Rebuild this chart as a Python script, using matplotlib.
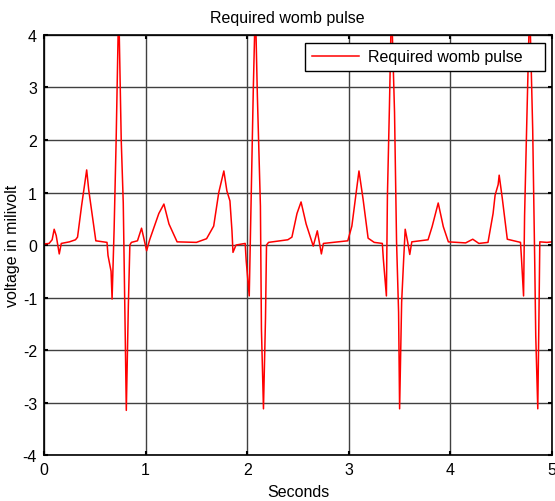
import matplotlib
matplotlib.use("Agg")
import matplotlib.pyplot as plt

plt.rcParams["font.family"] = ["Liberation Sans", "DejaVu Sans"]
plt.rcParams["axes.unicode_minus"] = False

# time (s) and voltage (mV)
t = [0.00, 0.05, 0.08, 0.10, 0.12, 0.15, 0.17, 0.25, 0.31, 0.33, 0.37, 0.42, 0.44, 0.51,
     0.62, 0.63, 0.66, 0.67, 0.69, 0.71, 0.735, 0.76, 0.78, 0.80, 0.81, 0.83, 0.845, 0.86,
     0.92, 0.96, 0.98, 1.01, 1.04, 1.13, 1.18, 1.23, 1.31, 1.50, 1.60, 1.67, 1.72, 1.77,
     1.80, 1.83, 1.85, 1.86, 1.89, 1.98, 1.99, 2.02, 2.04, 2.06, 2.08, 2.10, 2.13, 2.14,
     2.16, 2.18, 2.19, 2.21, 2.40, 2.44, 2.49, 2.53, 2.58, 2.65, 2.69, 2.73, 2.75, 2.99,
     3.03, 3.10, 3.14, 3.19, 3.25, 3.33, 3.34, 3.37, 3.38, 3.40, 3.42, 3.45, 3.47, 3.49,
     3.50, 3.52, 3.54, 3.555, 3.58, 3.60, 3.62, 3.78, 3.82, 3.88, 3.93, 3.98, 4.15, 4.22,
     4.28, 4.37, 4.42, 4.44, 4.47, 4.48, 4.51, 4.56, 4.69, 4.70, 4.72, 4.73, 4.75, 4.78,
     4.81, 4.83, 4.84, 4.86, 4.87, 4.88, 4.95, 5.00]
v = [0.02, 0.03, 0.10, 0.30, 0.18, -0.17, 0.03, 0.06, 0.10, 0.15, 0.75, 1.43, 1.05, 0.08,
     0.05, -0.20, -0.50, -1.03, 0.30, 2.00, 4.60, 2.00, 0.80, -1.80, -3.15, -1.16, 0.00, 0.05,
     0.08, 0.32, 0.15, -0.11, 0.10, 0.60, 0.78, 0.40, 0.06, 0.05, 0.12, 0.36, 1.00, 1.41,
     1.03, 0.84, 0.27, -0.14, 0.00, 0.03, -0.30, -0.97, 1.00, 2.97, 4.60, 2.84, 0.74, -1.60,
     -3.12, -1.40, 0.00, 0.05, 0.10, 0.15, 0.60, 0.82, 0.40, -0.02, 0.27, -0.17, 0.03, 0.08,
     0.36, 1.41, 0.88, 0.13, 0.05, 0.03, -0.27, -0.97, 0.93, 2.65, 4.60, 2.53, 0.06, -1.28,
     -3.12, -1.09, -0.27, 0.30, 0.05, -0.18, 0.06, 0.10, 0.35, 0.80, 0.35, 0.06, 0.04, 0.11,
     0.03, 0.05, 0.60, 0.95, 1.15, 1.33, 0.90, 0.11, 0.05, -0.27, -0.97, 0.55, 2.20, 4.60,
     2.20, -0.33, -1.73, -3.12, -1.60, 0.06, 0.05, 0.06]

x_ticks = [0, 1, 2, 3, 4, 5]
y_ticks = [-4, -3, -2, -1, 0, 1, 2, 3, 4]

fig = plt.figure(figsize=(5.55, 5.02), dpi=100)
ax = fig.add_axes([0.0793, 0.0916, 0.9153, 0.8367])

ax.plot(t, v, color="red", lw=1.1, label="Required womb pulse")

ax.set_xlim(0, 5)
ax.set_ylim(-4, 4)
ax.set_xticks(x_ticks)
ax.set_yticks(y_ticks)
ax.grid(True, color="#404040", lw=1.0)
ax.set_axisbelow(True)
ax.tick_params(direction="in", top=True, right=True, length=3, width=1.5, labelsize=11.5, pad=5)
for s in ax.spines.values():
    s.set_linewidth(1.2)

ax.set_title("Required womb pulse", fontsize=11.5, pad=9, x=0.478)
ax.set_xlabel("Seconds", fontsize=11.5, labelpad=5)
ax.set_ylabel("voltage in milivolt", fontsize=11.5, labelpad=2)

# matlab-style legend box, wider than its text
leg = ax.legend(loc="upper left", bbox_to_anchor=(0.514, 0.981, 0.472, 0), mode="expand",
                borderaxespad=0, fontsize=11.5, fancybox=False, framealpha=1,
                edgecolor="black", handlelength=3.0, handletextpad=0.55, borderpad=0.4)
leg.get_frame().set_linewidth(1.0)

fig.savefig("out.png", dpi=100)
